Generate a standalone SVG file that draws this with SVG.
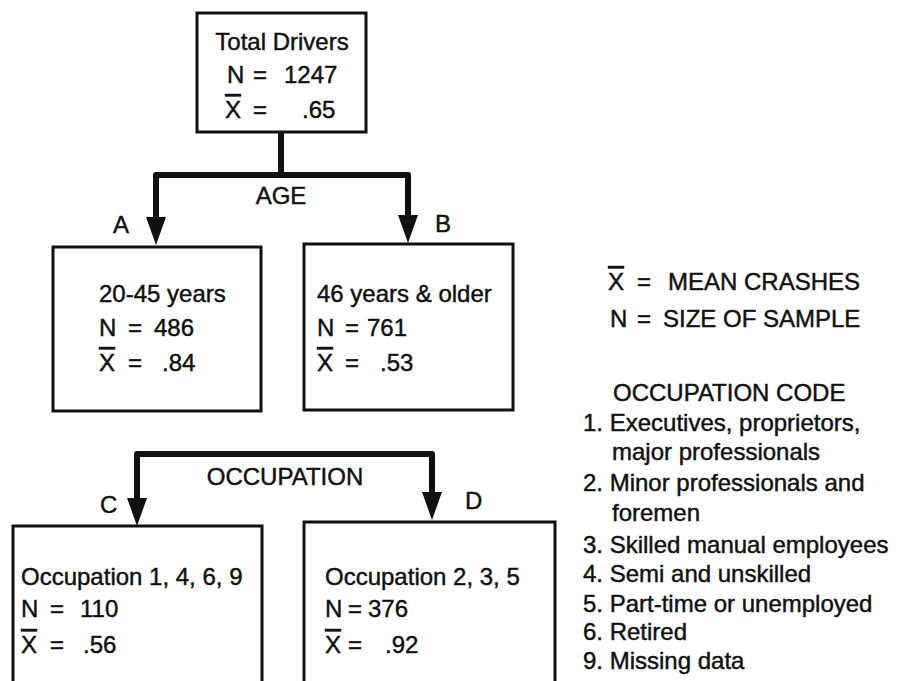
<svg xmlns="http://www.w3.org/2000/svg" width="898" height="681" viewBox="0 0 898 681">
  <style>
    text { font-family: "Liberation Sans", Arial, sans-serif; font-size: 24px; fill: #111; stroke: #111; stroke-width: 0.45; }
    .box { fill: #fff; stroke: #111; stroke-width: 3; }
    .conn { fill: none; stroke: #111; stroke-width: 6; stroke-linejoin: round; }
    .bar { text-decoration: overline; }
  </style>
  <defs>
    <marker id="arrow" markerUnits="userSpaceOnUse" orient="auto" refX="4" refY="0" markerWidth="30" markerHeight="24" viewBox="0 -12 30 24">
      <path d="M0,-10 L28,0 L0,10 Z" fill="#111"/>
    </marker>
  </defs>
  <rect width="898" height="681" fill="#fff"/>

  <!-- connectors -->
  <g id="connectors">
    <path class="conn" d="M281,132 V175"/>
    <path class="conn" d="M281,175 H156 V221" marker-end="url(#arrow)"/>
    <path class="conn" d="M281,175 H408 V219" marker-end="url(#arrow)"/>
    <path class="conn" d="M285,454 H137 V502" marker-end="url(#arrow)"/>
    <path class="conn" d="M285,454 H432 V496" marker-end="url(#arrow)"/>
    <text x="281" y="204" text-anchor="middle">AGE</text>
    <text x="285" y="485" text-anchor="middle">OCCUPATION</text>
    <text x="113" y="233">A</text>
    <text x="435" y="232">B</text>
    <text x="100" y="513">C</text>
    <text x="465" y="509">D</text>
  </g>

  <!-- root node -->
  <g id="total">
    <rect class="box" x="197" y="13" width="169" height="119"/>
    <text x="282" y="50" text-anchor="middle">Total Drivers</text>
    <text y="83"><tspan x="227">N</tspan><tspan x="253">=</tspan><tspan x="284">1247</tspan></text>
    <text y="118"><tspan x="225" class="bar">X</tspan><tspan x="253">=</tspan><tspan x="302">.65</tspan></text>
  </g>

  <!-- age split -->
  <g id="nodeA">
    <rect class="box" x="53" y="247" width="208" height="164"/>
    <text x="99" y="302">20-45 years</text>
    <text y="336"><tspan x="99">N</tspan><tspan x="128">=</tspan><tspan x="154">486</tspan></text>
    <text y="371"><tspan x="99" class="bar">X</tspan><tspan x="128">=</tspan><tspan x="162">.84</tspan></text>
  </g>
  <g id="nodeB">
    <rect class="box" x="304" y="244" width="209" height="166"/>
    <text x="317" y="302">46 years &amp; older</text>
    <text y="336"><tspan x="317">N</tspan><tspan x="345">=</tspan><tspan x="367">761</tspan></text>
    <text y="371"><tspan x="317" class="bar">X</tspan><tspan x="345">=</tspan><tspan x="380">.53</tspan></text>
  </g>

  <!-- occupation split -->
  <g id="nodeC">
    <rect class="box" x="13" y="526" width="249" height="200"/>
    <text x="21" y="585">Occupation 1, 4, 6, 9</text>
    <text y="617"><tspan x="21">N</tspan><tspan x="50">=</tspan><tspan x="80">110</tspan></text>
    <text y="653"><tspan x="21" class="bar">X</tspan><tspan x="50">=</tspan><tspan x="83">.56</tspan></text>
  </g>
  <g id="nodeD">
    <rect class="box" x="304" y="522" width="251" height="200"/>
    <text x="325" y="585">Occupation 2, 3, 5</text>
    <text y="617"><tspan x="325">N</tspan><tspan x="348">=</tspan><tspan x="368">376</tspan></text>
    <text y="653"><tspan x="325" class="bar">X</tspan><tspan x="348">=</tspan><tspan x="385">.92</tspan></text>
  </g>

  <!-- key -->
  <g id="legend">
    <text y="290"><tspan x="608" class="bar">X</tspan><tspan x="637">=</tspan><tspan x="668">MEAN CRASHES</tspan></text>
    <text y="327"><tspan x="610">N</tspan><tspan x="637">=</tspan><tspan x="663">SIZE OF SAMPLE</tspan></text>
    <text x="613" y="401">OCCUPATION CODE</text>
    <text x="583" y="431">1. Executives, proprietors,</text>
    <text x="612" y="460">major professionals</text>
    <text x="583" y="491">2. Minor professionals and</text>
    <text x="612" y="521">foremen</text>
    <text x="583" y="553">3. Skilled manual employees</text>
    <text x="583" y="582">4. Semi and unskilled</text>
    <text x="583" y="612">5. Part-time or unemployed</text>
    <text x="583" y="640">6. Retired</text>
    <text x="583" y="669">9. Missing data</text>
  </g>
</svg>
